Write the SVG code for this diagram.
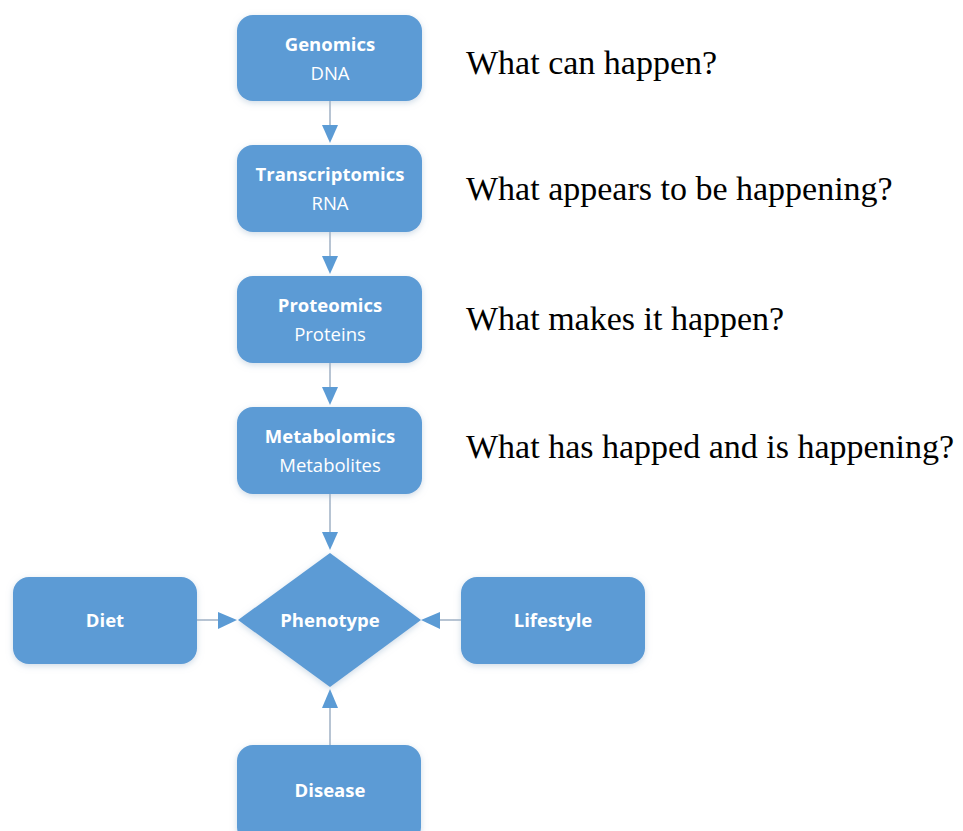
<svg xmlns="http://www.w3.org/2000/svg" width="963" height="831" viewBox="0 0 963 831">
<defs>
<filter id="sh" x="-10%" y="-10%" width="120%" height="130%">
<feDropShadow dx="0" dy="2" stdDeviation="3" flood-color="#9fb7cf" flood-opacity="0.5"/>
</filter>
</defs>
<style>
.box{fill:#5B9BD5;filter:url(#sh)}
.t{font-family:"Open Sans","Liberation Sans",sans-serif;font-size:18.5px;fill:#ffffff;text-anchor:middle}
.b{font-weight:bold}
.q{font-family:"Liberation Serif","Times New Roman",serif;font-size:34px;fill:#000000}
.ln{stroke:#9fb0c4;stroke-width:1.5;fill:none}
.ah{fill:#5B9BD5}
</style>
<rect width="963" height="831" fill="#ffffff"/>
<g id="connectors">
<line class="ln" x1="330" y1="101" x2="330" y2="126"/>
<polygon class="ah" points="322,125 338,125 330,143"/>
<line class="ln" x1="330" y1="232" x2="330" y2="257"/>
<polygon class="ah" points="322,256 338,256 330,274"/>
<line class="ln" x1="330" y1="363" x2="330" y2="388"/>
<polygon class="ah" points="322,387 338,387 330,405"/>
<line class="ln" x1="330" y1="494" x2="330" y2="533"/>
<polygon class="ah" points="322,532 338,532 330,550"/>
<line class="ln" x1="197" y1="620" x2="219" y2="620"/>
<polygon class="ah" points="218,612 218,629 237,620"/>
<line class="ln" x1="461" y1="620" x2="439" y2="620"/>
<polygon class="ah" points="440,612 440,629 421,620"/>
<line class="ln" x1="330" y1="745" x2="330" y2="707"/>
<polygon class="ah" points="322,708 338,708 330,689"/>
</g>
<g id="genomics">
<rect class="box" x="237" y="15" width="185" height="86" rx="16"/>
<text class="t b" x="330" y="51">Genomics</text>
<text class="t" x="330" y="80">DNA</text>
</g>
<g id="transcriptomics">
<rect class="box" x="237" y="145" width="185" height="87" rx="16"/>
<text class="t b" x="330" y="181">Transcriptomics</text>
<text class="t" x="330" y="210">RNA</text>
</g>
<g id="proteomics">
<rect class="box" x="237" y="276" width="185" height="87" rx="16"/>
<text class="t b" x="330" y="312">Proteomics</text>
<text class="t" x="330" y="341">Proteins</text>
</g>
<g id="metabolomics">
<rect class="box" x="237" y="407" width="185" height="87" rx="16"/>
<text class="t b" x="330" y="443">Metabolomics</text>
<text class="t" x="330" y="472">Metabolites</text>
</g>
<g id="phenotype">
<polygon class="box" points="330,553 421,620 330,687 238,620"/>
<text class="t b" x="330" y="627">Phenotype</text>
</g>
<g id="diet">
<rect class="box" x="13" y="577" width="184" height="87" rx="16"/>
<text class="t b" x="105" y="627">Diet</text>
</g>
<g id="lifestyle">
<rect class="box" x="461" y="577" width="184" height="87" rx="16"/>
<text class="t b" x="553" y="627">Lifestyle</text>
</g>
<g id="disease">
<rect class="box" x="237" y="745" width="184" height="98" rx="16"/>
<text class="t b" x="330" y="797">Disease</text>
</g>
<g id="questions">
<text class="q" x="466" y="74">What can happen?</text>
<text class="q" x="466" y="200">What appears to be happening?</text>
<text class="q" x="466" y="330">What makes it happen?</text>
<text class="q" x="466" y="458">What has happed and is happening?</text>
</g>
</svg>
